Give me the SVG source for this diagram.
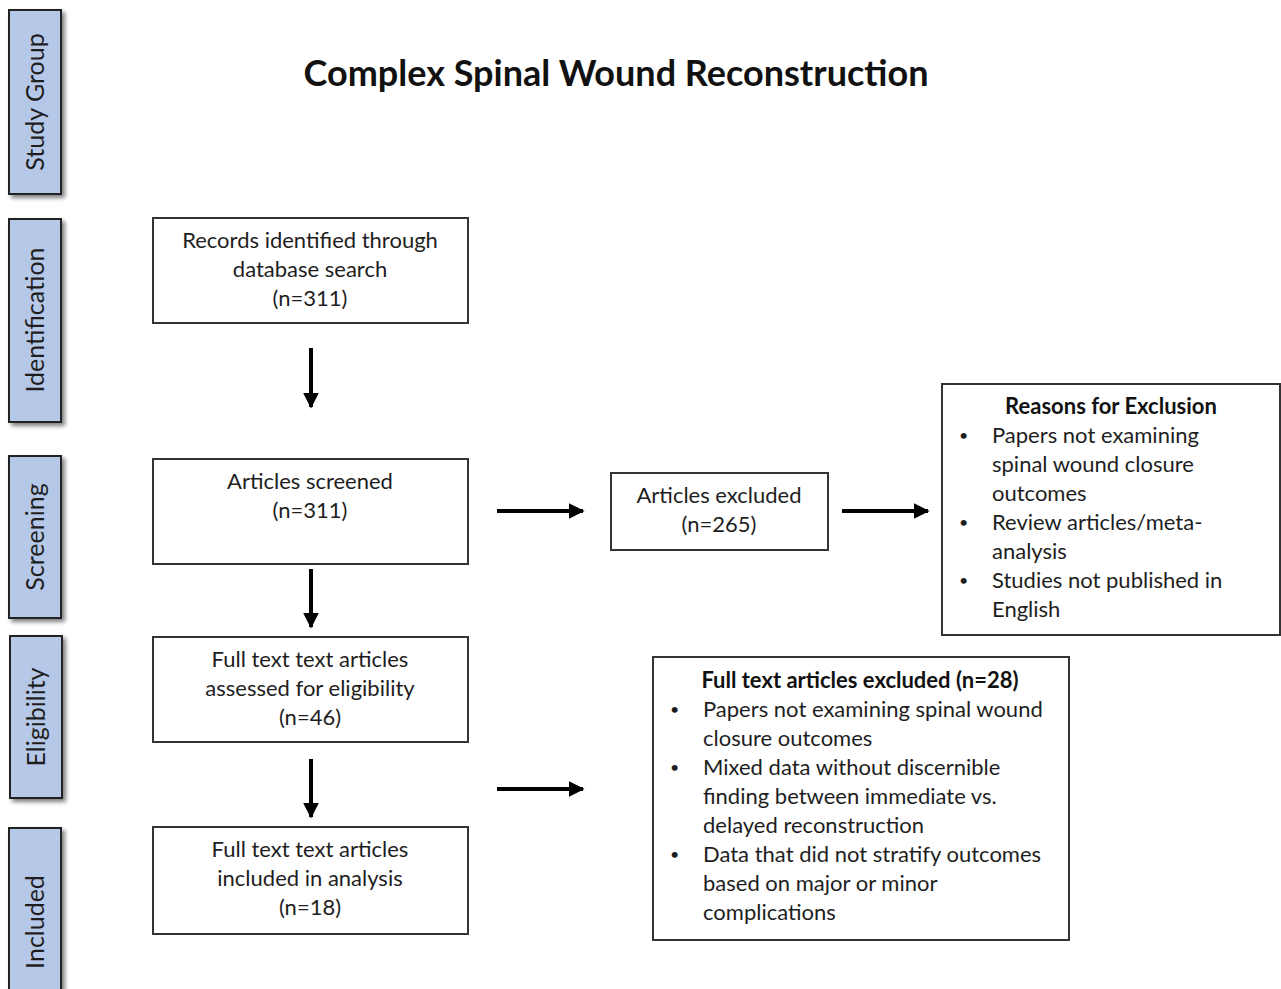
<svg xmlns="http://www.w3.org/2000/svg" width="1281" height="989" viewBox="0 0 1281 989">
<defs>
<filter id="sh" x="-30%" y="-10%" width="160%" height="120%">
<feGaussianBlur in="SourceAlpha" stdDeviation="2"/>
<feOffset dx="3" dy="3" result="b"/>
<feComponentTransfer><feFuncA type="linear" slope="0.5"/></feComponentTransfer>
<feMerge><feMergeNode/><feMergeNode in="SourceGraphic"/></feMerge>
</filter>
<marker id="ah" viewBox="0 0 10 10" refX="9" refY="5" markerWidth="4" markerHeight="4" orient="auto" markerUnits="strokeWidth">
<path d="M0,0 L10,5 L0,10 z" fill="#000"/>
</marker>
</defs>
<style>
text{font-family:Lato,"Open Sans","Liberation Sans",sans-serif;fill:#1e1e1e}
.side{fill:#b6c8e8;stroke:#222;stroke-width:2}
.st{font-size:25px;text-anchor:middle}
.box{fill:#fff;stroke:#333;stroke-width:2}
.t{font-size:22px;text-anchor:middle}
.l{font-size:22px}
.bu{font-size:16px}
.b{font-weight:bold;fill:#111}
.arr{stroke:#000;stroke-width:4;fill:none;marker-end:url(#ah)}
</style>
<rect width="1281" height="989" fill="#fff"/>
<text x="616" y="86" font-size="36" font-weight="bold" text-anchor="middle" style="fill:#111">Complex Spinal Wound Reconstruction</text>

<g id="side-study"><rect class="side" x="9" y="10" width="52" height="184" filter="url(#sh)"/><text class="st" transform="translate(44,102) rotate(-90)">Study Group</text></g>
<g id="side-identification"><rect class="side" x="9" y="219" width="52" height="203" filter="url(#sh)"/><text class="st" transform="translate(44,320) rotate(-90)">Identification</text></g>
<g id="side-screening"><rect class="side" x="9" y="456" width="52" height="162" filter="url(#sh)"/><text class="st" transform="translate(44,537) rotate(-90)">Screening</text></g>
<g id="side-eligibility"><rect class="side" x="10" y="636" width="52" height="162" filter="url(#sh)"/><text class="st" transform="translate(45,717) rotate(-90)">Eligibility</text></g>
<g id="side-included"><rect class="side" x="9" y="828" width="52" height="190" filter="url(#sh)"/><text class="st" transform="translate(44,922) rotate(-90)">Included</text></g>

<g id="n-records"><rect class="box" x="153" y="218" width="315" height="105"/>
<text class="t" x="310" y="248">Records identified through</text>
<text class="t" x="310" y="277">database search</text>
<text class="t" x="310" y="306">(n=311)</text></g>

<g id="n-screened"><rect class="box" x="153" y="459" width="315" height="105"/>
<text class="t" x="310" y="489">Articles screened</text>
<text class="t" x="310" y="518">(n=311)</text></g>

<g id="n-excluded"><rect class="box" x="611" y="473" width="217" height="77"/>
<text class="t" x="719" y="503">Articles excluded</text>
<text class="t" x="719" y="532">(n=265)</text></g>

<g id="n-reasons"><rect class="box" x="942" y="384" width="338" height="251"/>
<text class="t b" x="1111" y="414">Reasons for Exclusion</text>
<text class="bu" x="959" y="441">•</text><text class="l" x="992" y="443">Papers not examining</text>
<text class="l" x="992" y="472">spinal wound closure</text>
<text class="l" x="992" y="501">outcomes</text>
<text class="bu" x="959" y="528">•</text><text class="l" x="992" y="530">Review articles/meta-</text>
<text class="l" x="992" y="559">analysis</text>
<text class="bu" x="959" y="586">•</text><text class="l" x="992" y="588">Studies not published in</text>
<text class="l" x="992" y="617">English</text></g>

<g id="n-eligibility"><rect class="box" x="153" y="637" width="315" height="105"/>
<text class="t" x="310" y="667">Full text text articles</text>
<text class="t" x="310" y="696">assessed for eligibility</text>
<text class="t" x="310" y="725">(n=46)</text></g>

<g id="n-included"><rect class="box" x="153" y="827" width="315" height="107"/>
<text class="t" x="310" y="857">Full text text articles</text>
<text class="t" x="310" y="886">included in analysis</text>
<text class="t" x="310" y="915">(n=18)</text></g>

<g id="n-fulltext-excluded"><rect class="box" x="653" y="657" width="416" height="283"/>
<text class="t b" x="860" y="688">Full text articles excluded (n=28)</text>
<text class="bu" x="670" y="715">•</text><text class="l" x="703" y="717">Papers not examining spinal wound</text>
<text class="l" x="703" y="746">closure outcomes</text>
<text class="bu" x="670" y="773">•</text><text class="l" x="703" y="775">Mixed data without discernible</text>
<text class="l" x="703" y="804">finding between immediate vs.</text>
<text class="l" x="703" y="833">delayed reconstruction</text>
<text class="bu" x="670" y="860">•</text><text class="l" x="703" y="862">Data that did not stratify outcomes</text>
<text class="l" x="703" y="891">based on major or minor</text>
<text class="l" x="703" y="920">complications</text></g>

<g id="connectors">
<line class="arr" x1="311" y1="348" x2="311" y2="407"/>
<line class="arr" x1="311" y1="569" x2="311" y2="627"/>
<line class="arr" x1="311" y1="759" x2="311" y2="817"/>
<line class="arr" x1="497" y1="511" x2="583" y2="511"/>
<line class="arr" x1="842" y1="511" x2="928" y2="511"/>
<line class="arr" x1="497" y1="789" x2="583" y2="789"/>
</g>
</svg>
